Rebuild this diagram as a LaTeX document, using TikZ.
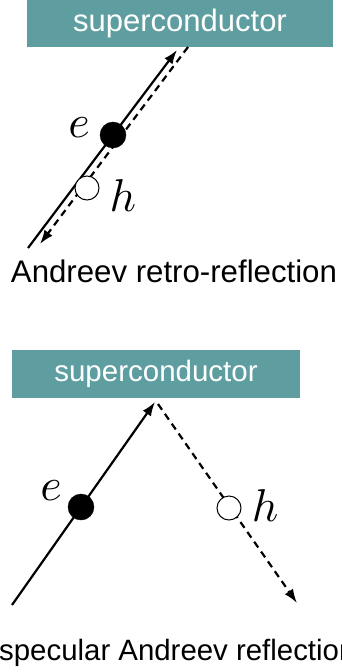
\documentclass[tikz,border=0pt]{standalone}
\usepackage{graphicx}
\usepackage{fontspec}
\setmainfont{Liberation Sans}
\usetikzlibrary{arrows.meta, positioning, calc}
\definecolor{scteal}{RGB}{95,158,160}
\newcommand{\bigsym}[1]{\scalebox{4.6}{$#1$}}
\tikzset{
  scbox/.style  ={fill=scteal, draw=none, inner sep=0pt, text=white},
  elec/.style   ={circle, fill=black, draw=black, minimum size=26pt, inner sep=0pt},
  hole/.style   ={circle, fill=white, draw=black, line width=1pt, minimum size=24pt, inner sep=0pt},
  particle/.style={inner sep=0pt},
  arr/.style    ={-{Latex[length=14pt,width=10pt]}, line width=2.2pt, black},
  darr/.style   ={arr, dash pattern=on 7pt off 5pt},
  caption/.style={anchor=base, inner sep=0pt},
}

\begin{document}
\begin{tikzpicture}[x=1pt, y=-1pt]
\useasboundingbox (0,0) rectangle (342,672);

%% ════════════════════════════════════════════════════════════
%%  TOP — Andreev retro-reflection
%% ════════════════════════════════════════════════════════════
\node[scbox, minimum width=306pt, minimum height=47pt,
      font=\fontsize{31}{36}\selectfont] (sc1) at (180,23.5)
  {superconductor};

\coordinate (in1)  at (28,248);
\coordinate (up1)  at (177,50);
\coordinate (top1) at (188,47);
\coordinate (out1) at (40,244);

% incoming electron and retro-reflected hole
\draw[arr]  (in1) -- (up1);
\draw[darr] (top1) -- (out1);

\node[elec] (e1) at (113,135) {};
\node[hole] (h1) at (87,188) {};
\node[particle] (le1) at (79,128) {\bigsym{e}};
\node[particle] (lh1) at (123,196) {\bigsym{h}};

\node[caption, font=\fontsize{31.2}{36}\selectfont] (cap1) at (174,282)
  {Andreev retro-reflection};

%% ════════════════════════════════════════════════════════════
%%  BOTTOM — specular Andreev reflection
%% ════════════════════════════════════════════════════════════
\node[scbox, minimum width=288pt, minimum height=48pt,
      font=\fontsize{29.5}{34}\selectfont] (sc2) at (156,374)
  {superconductor};

\coordinate (in2)   at (12,605);
\coordinate (apex2) at (155,402);
\coordinate (top2)  at (158,404);
\coordinate (out2)  at (297,603);

% incoming electron and specularly reflected hole
\draw[arr]  (in2) -- (apex2);
\draw[darr] (top2) -- (out2);

\node[elec] (e2) at (81,507) {};
\node[hole] (h2) at (229,508) {};
\node[particle] (le2) at (51,491) {\bigsym{e}};
\node[particle] (lh2) at (265,506) {\bigsym{h}};

\node[caption, font=\fontsize{29.4}{34}\selectfont, anchor=base west] (cap2) at (-1,660)
  {specular Andreev reflection};

\end{tikzpicture}
\end{document}
